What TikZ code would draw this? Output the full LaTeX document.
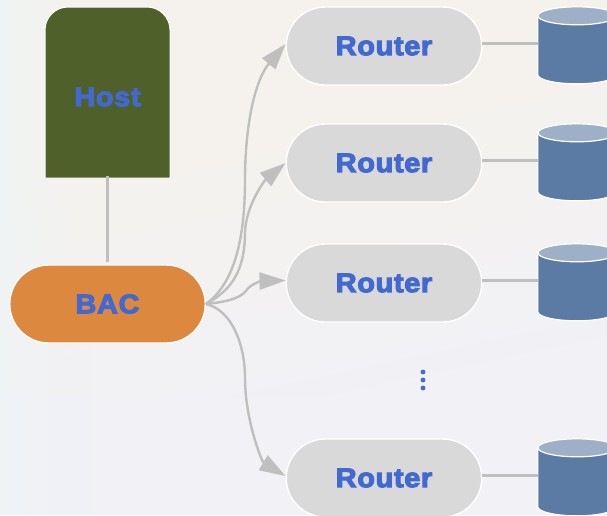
\documentclass[tikz,border=0pt]{standalone}
\usepackage{fontspec}
\setmainfont{Liberation Sans}
\newfontfamily\labfont[LetterSpace=2.5,FakeBold=4,FakeStretch=1.07]{Liberation Sans Bold}
\usetikzlibrary{arrows.meta,shapes.misc,fadings}
\definecolor{linkgray}{HTML}{BFBFBF}
\definecolor{pillgray}{HTML}{D9D9D9}
\definecolor{labblue}{HTML}{4169CF}
\definecolor{hostgreen}{HTML}{50602A}
\definecolor{bacorange}{HTML}{DD883F}
\definecolor{cylbody}{HTML}{5B7BA5}
\definecolor{cyltop}{HTML}{9DB0C8}
\definecolor{bgwarm}{HTML}{F5F2ED}
\definecolor{bgcool}{HTML}{F1F1F6}
\definecolor{bgice}{HTML}{EFF4F6}
\tikzset{
  lab/.style={font=\labfont\fontsize{27}{29}\selectfont,text=labblue},
  pill/.style={rounded rectangle,draw=white,line width=1.4pt,fill=pillgray,minimum width=195.5pt,minimum height=78pt,inner sep=0pt,lab},
  drumhit/.style={rectangle,minimum width=78pt,minimum height=77pt,inner sep=0pt},
  drumside/.style={draw=white,line width=1.2pt,fill=cylbody},
  drumcap/.style={draw=white,line width=1.2pt,fill=cyltop},
  link/.style={draw=linkgray,line width=2.8pt},
  flow/.style={draw=linkgray,line width=2.4pt,-{Triangle[length=26pt,width=17pt,fill=linkgray]}},
  vdot/.style={circle,fill=labblue,minimum size=4.8pt,inner sep=0pt}
}
\newcommand{\drumat}[3]{%
  \node[drumhit] (#1) at (#2,#3) {};
  \draw[drumside] (#1.north west) ++(0,-9pt) -- ++(0,-59pt) arc[start angle=180,end angle=360,x radius=39pt,y radius=9pt] -- ++(0,59pt) -- cycle;
  \draw[drumcap] (#1.north) ++(0,-9pt) ellipse[x radius=39pt,y radius=9pt];
}
\begin{document}
\begin{tikzpicture}[x=1pt,y=-1pt]
\useasboundingbox (0,0) rectangle (607,515);
\clip (0,0) rectangle (607,515);
% background
\shade[top color=bgwarm,bottom color=bgcool,middle color=bgwarm,shading angle=12,draw=none] (-60,-180) rectangle (667,400);
\fill[bgcool] (-60,398) rectangle (667,515);
\fill[bgice,path fading=east,opacity=.7] (0,0) rectangle (90,515);
% host and other nodes
\draw[draw=white,line width=1pt,fill=hostgreen] (45,178) [rounded corners=23pt] -- (45,7) -- (170,7) [sharp corners] -- (170,178) -- cycle;
\node[lab,inner sep=0pt,minimum width=125pt,minimum height=40pt] (host) at (107.5,97) {Host};
\coordinate (hostfoot) at (107.5,176);
\node[pill,fill=bacorange] (bac) at (107.5,304) {BAC};
\node[pill] (r1) at (384,46) {Router};
\node[pill] (r2) at (384,163) {Router};
\node[pill] (r3) at (384,283) {Router};
\node[pill] (r4) at (384,478) {Router};
\drumat{d1}{577}{45.5}
\drumat{d2}{577}{162.5}
\drumat{d3}{577}{282.5}
\drumat{d4}{577}{477.5}
\node[vdot] (v1) at (423,372) {};
\node[vdot] (v2) at (423,380) {};
\node[vdot] (v3) at (423,388) {};
\coordinate (bactop) at (107.5,262);
\draw[link] (hostfoot) -- (bactop);
\coordinate (c1) at (245,180);
\coordinate (c2) at (245,232);
\coordinate (c3) at (246,291);
\coordinate (c4) at (245,378);
\draw[flow] (bac.east) .. controls (232,285) and (245,245) .. (c1) .. controls (245,125) and (255,80) .. ([yshift=2pt]r1.west);
\draw[flow] (bac.east) .. controls (232,290) and (245,270) .. (c2) .. controls (246,205) and (265,180) .. (r2.west);
\draw[flow] (bac.east) .. controls (225,302) and (239,299) .. (c3) .. controls (250,284) and (262,281) .. ([yshift=2.5pt]r3.west);
\draw[flow] (bac.east) .. controls (232,310) and (245,345) .. (c4) .. controls (245,420) and (262,462) .. ([yshift=2pt]r4.west);
\draw[link] ([yshift=2.5pt]r1.east) -- ([yshift=2.5pt]d1.west |- r1.east);
\draw[link] ([yshift=2.5pt]r2.east) -- ([yshift=2.5pt]d2.west |- r2.east);
\draw[link] ([yshift=2.5pt]r3.east) -- ([yshift=2.5pt]d3.west |- r3.east);
\draw[link] ([yshift=2.5pt]r4.east) -- ([yshift=2.5pt]d4.west |- r4.east);
\end{tikzpicture}
\end{document}
